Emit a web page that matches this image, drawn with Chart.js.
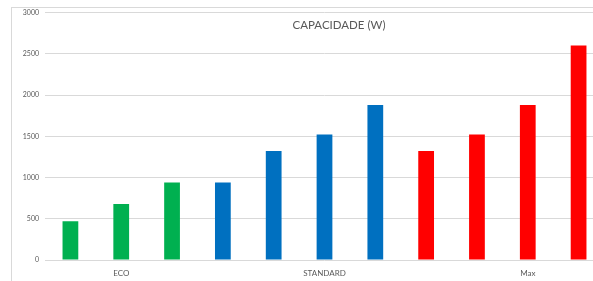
<!DOCTYPE html>
<html>
<head>
<meta charset="utf-8">
<script src="https://cdn.jsdelivr.net/npm/chart.js@4.4.0/dist/chart.umd.min.js"></script>
<style>
  html, body { margin: 0; padding: 0; background: #fff; overflow: hidden; width: 593px; height: 281px; }
  #frame { position: absolute; left: 11px; top: 7px; width: 654px; height: 290px; border: 1px solid #d9d9d9; }
  #chart { display: block; }
</style>
</head>
<body>
<div id="frame"><canvas id="chart" width="654" height="273"></canvas></div>
<script>
// categories (only some labels are shown in the original)
const labels = ["", "ECO", "", "", "", "STANDARD", "", "", "", "Max", ""];
const capacidade = [470, 680, 940, 940, 1320, 1520, 1880, 1320, 1520, 1880, 2600];
const barColors = [
  "#00B050", "#00B050", "#00B050",
  "#0070C0", "#0070C0", "#0070C0", "#0070C0",
  "#FF0000", "#FF0000", "#FF0000", "#FF0000",
];
const yTicks = [0, 500, 1000, 1500, 2000, 2500, 3000];
const chartTitle = "CAPACIDADE (W)";

// title drawn over the plot area, like the original
const overlayTitle = {
  id: "overlayTitle",
  afterDraw(chart) {
    const ctx = chart.ctx;
    ctx.save();
    ctx.font = "11.5px Lato";
    ctx.fillStyle = "#595959";
    ctx.textAlign = "center";
    ctx.textBaseline = "middle";
    ctx.fillText(chartTitle, chart.width / 2, 17);
    ctx.restore();
  },
};

const ctx = document.getElementById("chart").getContext("2d");
new Chart(ctx, {
  type: "bar",
  data: {
    labels,
    datasets: [
      {
        label: chartTitle,
        data: capacidade,
        backgroundColor: barColors,
        borderWidth: 0,
        categoryPercentage: 1,
        barPercentage: 0.31,
      },
    ],
  },
  options: {
    responsive: false,
    animation: false,
    layout: { padding: { top: 4.5, right: 62, left: 0, bottom: 0 } },
    plugins: {
      legend: { display: false },
      tooltip: { enabled: false },
      title: { display: false },
    },
    scales: {
      x: {
        afterFit: (scale) => {
          scale.height = 21;
        },
        grid: { display: false },
        border: { display: false },
        ticks: {
          autoSkip: false,
          maxRotation: 0,
          color: "#595959",
          font: { family: "Lato", size: 8 },
          padding: 1,
        },
      },
      y: {
        min: 0,
        max: 3000,
        afterBuildTicks: (scale) => {
          scale.ticks = yTicks.map((v) => ({ value: v }));
        },
        afterFit: (scale) => {
          scale.width = 33;
          scale.paddingTop = 0;
          scale.paddingBottom = 0;
        },
        grid: { color: "#d9d9d9", drawTicks: false },
        border: { display: false },
        ticks: {
          color: "#595959",
          font: { family: "Lato", size: 7 },
          padding: 6,
          callback: (v) => String(v),
        },
      },
    },
  },
  plugins: [overlayTitle],
});
</script>
</body>
</html>
